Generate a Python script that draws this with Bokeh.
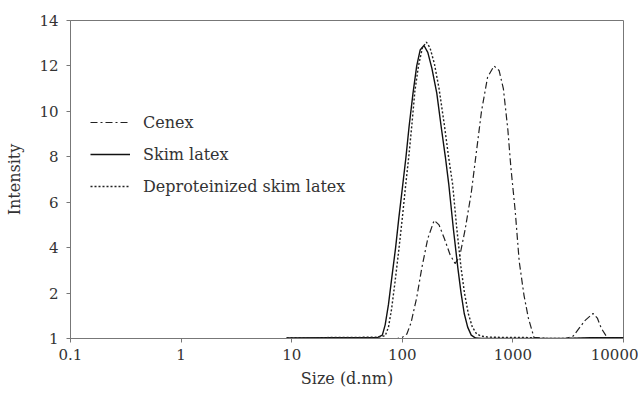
from bokeh.plotting import figure
from bokeh.models import FixedTicker, Legend, LegendItem, Range1d
from bokeh.embed import file_html
from bokeh.resources import INLINE

# ---- data ----
cenex_size = [0.4, 90, 100, 110, 120, 135, 150, 170, 194, 215, 240, 270, 300, 330, 370,
              420, 470, 520, 590, 675, 750, 820, 900, 960, 1050, 1140, 1260, 1380, 1550,
              2000, 3000, 3500, 3900, 4500, 5300, 5800, 6300, 7200, 10000]
cenex_int = [0, 0, 0.05, 0.2, 0.7, 1.8, 3.1, 4.4, 5.2, 5.0, 4.4, 3.7, 3.3, 3.6, 4.8,
             6.4, 8.3, 10.0, 11.5, 12.0, 11.8, 11.0, 9.2, 7.5, 5.6, 3.4, 1.9, 0.9, 0.05,
             0, 0, 0.1, 0.4, 0.8, 1.1, 0.9, 0.45, 0, 0]

skim_size = [9, 20, 40, 60, 66, 70, 75, 80, 87, 93, 100, 108, 115, 125, 135, 145, 157,
             170, 185, 205, 225, 245, 263, 290, 318, 340, 363, 390, 420, 460, 520, 1000,
             3000, 5000, 10000]
skim_int = [0.02, 0.03, 0.04, 0.05, 0.15, 0.6, 1.5, 2.6, 4.0, 5.3, 6.6, 8.0, 9.3, 10.8,
            12.0, 12.7, 12.9, 12.6, 11.9, 10.8, 9.3, 8.0, 6.8, 4.8, 3.1, 2.0, 1.1, 0.5,
            0.15, 0.02, 0, 0, 0, 0.03, 0.03]

dep_size = [9, 20, 40, 60, 70, 75, 80, 86, 93, 100, 107, 115, 122, 130, 140, 152, 165,
            178, 195, 215, 240, 262, 285, 310, 340, 365, 395, 430, 470, 520, 600, 800,
            1200, 1500, 1800, 10000]
dep_int = [0.03, 0.04, 0.05, 0.06, 0.12, 0.5, 1.3, 2.5, 3.9, 5.3, 6.7, 8.1, 9.4, 10.9,
           12.0, 12.8, 13.05, 12.8, 12.1, 11.0, 9.4, 8.0, 6.8, 4.9, 3.1, 2.0, 1.1, 0.5,
           0.2, 0.1, 0.06, 0.05, 0.05, 0.03, 0, 0]

x_ticks = [0.1, 1, 10, 100, 1000, 10000]
x_tick_labels = ["0.1", "1", "10", "100", "1000", "10000"]
y_ticks = [0, 2, 4, 6, 8, 10, 12, 14]
y_tick_labels = ["1", "2", "4", "6", "8", "10", "12", "14"]

series_names = ["Cenex", "Skim latex", "Deproteinized skim latex"]

FONT_TICK = "DejaVu Serif"
FONT_TITLE = "DejaVu Serif"
FONT_LEG = "DejaVu Serif"
TXT = "#333333"
AX = "#777777"

p = figure(width=638, height=397, x_axis_type="log",
           x_range=Range1d(0.1, 10000), y_range=Range1d(0, 14),
           output_backend="svg", toolbar_location=None,
           min_border_left=70, min_border_right=15, min_border_top=20, min_border_bottom=59)

p.grid.visible = False
p.outline_line_color = AX
p.outline_line_width = 1
p.background_fill_color = "white"
p.border_fill_color = "white"

r1 = p.line(cenex_size, cenex_int, line_color="#222222", line_width=1.2, line_dash="7 3 2 3")
r2 = p.line(skim_size, skim_int, line_color="#111111", line_width=1.4)
r3 = p.line(dep_size, dep_int, line_color="#222222", line_width=1.4, line_dash="2 2")

p.xaxis.ticker = FixedTicker(ticks=x_ticks)
p.xaxis.major_label_overrides = {t: l for t, l in zip(x_ticks, x_tick_labels)}
p.yaxis.ticker = FixedTicker(ticks=y_ticks)
p.yaxis.major_label_overrides = {t: l for t, l in zip(y_ticks, y_tick_labels)}

for ax in (p.xaxis, p.yaxis):
    ax.axis_line_color = AX
    ax.major_tick_line_color = AX
    ax.minor_tick_line_color = None
    ax.major_tick_in = 0
    ax.major_tick_out = 4
    ax.major_label_text_font = FONT_TICK
    ax.major_label_text_font_size = "15px"
    ax.major_label_text_color = TXT
    ax.axis_label_text_font = FONT_TITLE
    ax.axis_label_text_font_size = "16px"
    ax.axis_label_text_font_style = "normal"
    ax.axis_label_text_color = TXT

p.xaxis.axis_label = "Size (d.nm)"
p.yaxis.axis_label = "Intensity"
p.xaxis.major_label_standoff = 6
p.yaxis.major_label_standoff = 8
p.xaxis.axis_label_standoff = 6
p.yaxis.axis_label_standoff = 12

legend = Legend(items=[LegendItem(label=series_names[0], renderers=[r1]),
                       LegendItem(label=series_names[1], renderers=[r2]),
                       LegendItem(label=series_names[2], renderers=[r3])],
                location=(20, 142), padding=0, margin=0, spacing=12,
                glyph_width=40, glyph_height=20, label_height=20, label_standoff=13,
                border_line_color=None, background_fill_alpha=0,
                label_text_font=FONT_LEG, label_text_font_size="16px", label_text_color=TXT)
p.add_layout(legend)

open("out.html", "w").write(file_html(p, INLINE))
